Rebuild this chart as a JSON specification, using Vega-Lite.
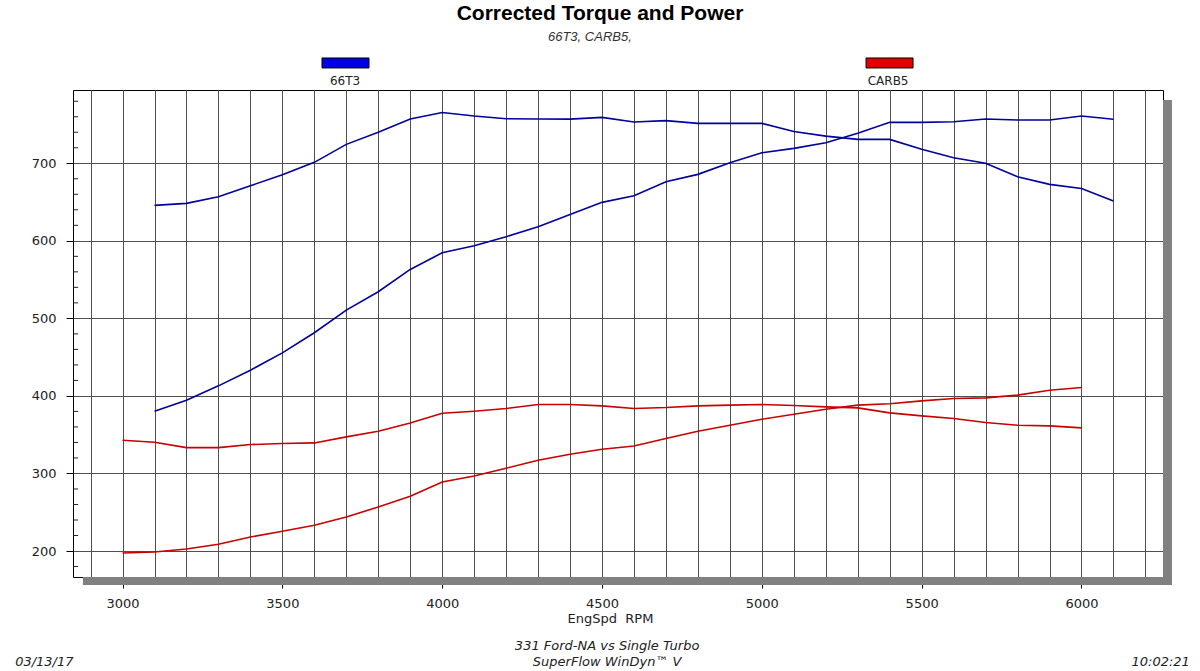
{
  "$schema": "https://vega.github.io/schema/vega-lite/v6.json",
  "width": 1090,
  "height": 487,
  "autosize": {"type": "none"},
  "padding": {"left": 73, "top": 90, "right": 37, "bottom": 94},
  "background": "white",
  "config": {"view": {"stroke": "#000000", "strokeWidth": 1}, "font": "DejaVu Sans"},
  "title": {
    "text": "Corrected Torque and Power",
    "anchor": "middle",
    "dx": -18,
    "offset": 7,
    "font": "Liberation Sans",
    "fontSize": 21,
    "fontWeight": "bold",
    "color": "#000000"
  },
  "datasets": {
    "dyno": [
      {"rpm": 3000, "CARB5 Torque": 342.9, "CARB5 Power": 197.5},
      {"rpm": 3100, "66T3 Torque": 645.7, "66T3 Power": 380.3, "CARB5 Torque": 340.3, "CARB5 Power": 198.8},
      {"rpm": 3200, "66T3 Torque": 648.3, "66T3 Power": 394.5, "CARB5 Torque": 333.3, "CARB5 Power": 202.6},
      {"rpm": 3300, "66T3 Torque": 656.9, "66T3 Power": 413.0, "CARB5 Torque": 333.3, "CARB5 Power": 208.7},
      {"rpm": 3400, "66T3 Torque": 671.0, "66T3 Power": 433.2, "CARB5 Torque": 337.3, "CARB5 Power": 218.1},
      {"rpm": 3500, "66T3 Torque": 685.3, "66T3 Power": 455.5, "CARB5 Torque": 338.6, "CARB5 Power": 225.5},
      {"rpm": 3600, "66T3 Torque": 701.2, "66T3 Power": 481.5, "CARB5 Torque": 339.4, "CARB5 Power": 233.2},
      {"rpm": 3700, "66T3 Torque": 724.4, "66T3 Power": 510.6, "CARB5 Torque": 347.2, "CARB5 Power": 243.9},
      {"rpm": 3800, "66T3 Torque": 739.9, "66T3 Power": 534.3, "CARB5 Torque": 354.5, "CARB5 Power": 256.8},
      {"rpm": 3900, "66T3 Torque": 757.1, "66T3 Power": 563.1, "CARB5 Torque": 365.2, "CARB5 Power": 270.6},
      {"rpm": 4000, "66T3 Torque": 765.5, "66T3 Power": 584.6, "CARB5 Torque": 377.7, "CARB5 Power": 289.1},
      {"rpm": 4100, "66T3 Torque": 761.0, "66T3 Power": 593.6, "CARB5 Torque": 380.3, "CARB5 Power": 296.8},
      {"rpm": 4200, "66T3 Torque": 757.5, "66T3 Power": 605.3, "CARB5 Torque": 383.8, "CARB5 Power": 306.8},
      {"rpm": 4300, "66T3 Torque": 757.1, "66T3 Power": 618.1, "CARB5 Torque": 388.9, "CARB5 Power": 317.1},
      {"rpm": 4400, "66T3 Torque": 757.0, "66T3 Power": 634.1, "CARB5 Torque": 388.9, "CARB5 Power": 324.8},
      {"rpm": 4500, "66T3 Torque": 759.2, "66T3 Power": 649.6, "CARB5 Torque": 387.2, "CARB5 Power": 331.3},
      {"rpm": 4600, "66T3 Torque": 753.2, "66T3 Power": 658.2, "CARB5 Torque": 383.8, "CARB5 Power": 335.5},
      {"rpm": 4700, "66T3 Torque": 755.0, "66T3 Power": 676.2, "CARB5 Torque": 385.0, "CARB5 Power": 345.0},
      {"rpm": 4800, "66T3 Torque": 751.5, "66T3 Power": 685.7, "CARB5 Torque": 387.2, "CARB5 Power": 354.5},
      {"rpm": 4900, "66T3 Torque": 751.5, "66T3 Power": 700.7, "CARB5 Torque": 388.1, "CARB5 Power": 362.2},
      {"rpm": 5000, "66T3 Torque": 751.5, "66T3 Power": 713.6, "CARB5 Torque": 388.9, "CARB5 Power": 369.9},
      {"rpm": 5100, "66T3 Torque": 741.0, "66T3 Power": 719.2, "CARB5 Torque": 387.6, "CARB5 Power": 376.4},
      {"rpm": 5200, "66T3 Torque": 735.0, "66T3 Power": 726.5, "CARB5 Torque": 385.9, "CARB5 Power": 382.9},
      {"rpm": 5300, "66T3 Torque": 730.8, "66T3 Power": 738.6, "CARB5 Torque": 384.6, "CARB5 Power": 388.1},
      {"rpm": 5400, "66T3 Torque": 730.8, "66T3 Power": 752.8, "CARB5 Torque": 378.1, "CARB5 Power": 390.0},
      {"rpm": 5500, "66T3 Torque": 718.0, "66T3 Power": 752.8, "CARB5 Torque": 374.3, "CARB5 Power": 393.6},
      {"rpm": 5600, "66T3 Torque": 707.2, "66T3 Power": 753.6, "CARB5 Torque": 370.9, "CARB5 Power": 396.7},
      {"rpm": 5700, "66T3 Torque": 700.0, "66T3 Power": 757.1, "CARB5 Torque": 365.7, "CARB5 Power": 397.5},
      {"rpm": 5800, "66T3 Torque": 682.6, "66T3 Power": 755.8, "CARB5 Torque": 362.2, "CARB5 Power": 401.0},
      {"rpm": 5900, "66T3 Torque": 672.8, "66T3 Power": 755.8, "CARB5 Torque": 361.4, "CARB5 Power": 407.4},
      {"rpm": 6000, "66T3 Torque": 667.6, "66T3 Power": 761.0, "CARB5 Torque": 358.8, "CARB5 Power": 410.9},
      {"rpm": 6100, "66T3 Torque": 651.3, "66T3 Power": 756.7}
    ],
    "minor": [
      {"t": 180}, {"t": 220}, {"t": 240}, {"t": 260}, {"t": 280},
      {"t": 320}, {"t": 340}, {"t": 360}, {"t": 380},
      {"t": 420}, {"t": 440}, {"t": 460}, {"t": 480},
      {"t": 520}, {"t": 540}, {"t": 560}, {"t": 580},
      {"t": 620}, {"t": 640}, {"t": 660}, {"t": 680},
      {"t": 720}, {"t": 740}, {"t": 760}, {"t": 780}
    ]
  },
  "layer": [
    {
      "data": {"values": [{}]},
      "mark": {"type": "rect", "color": "#808080"},
      "encoding": {
        "x": {"datum": 2876, "type": "quantitative", "scale": {"domain": [2845, 6255], "nice": false, "zero": false}},
        "x2": {"datum": 6283},
        "y": {"datum": 156.2, "type": "quantitative", "scale": {"domain": [166.5, 794.5], "nice": false, "zero": false}},
        "y2": {"datum": 166.5}
      }
    },
    {
      "data": {"values": [{}]},
      "mark": {"type": "rect", "color": "#808080"},
      "encoding": {
        "x": {"datum": 6255, "type": "quantitative", "scale": {"domain": [2845, 6255], "nice": false, "zero": false}},
        "x2": {"datum": 6283},
        "y": {"datum": 156.2, "type": "quantitative", "scale": {"domain": [166.5, 794.5], "nice": false, "zero": false}},
        "y2": {"datum": 781.6}
      }
    },
    {
      "data": {"name": "dyno"},
      "transform": [
        {"fold": ["66T3 Torque", "66T3 Power", "CARB5 Torque", "CARB5 Power"], "as": ["curve", "value"]},
        {"filter": "isValid(datum.value)"}
      ],
      "mark": {"type": "line", "strokeWidth": 1.6, "interpolate": "linear"},
      "encoding": {
        "x": {
          "field": "rpm", "type": "quantitative",
          "scale": {"domain": [2845, 6255], "nice": false, "zero": false},
          "axis": {
            "values": [2900, 3000, 3100, 3200, 3300, 3400, 3500, 3600, 3700, 3800, 3900, 4000, 4100, 4200, 4300, 4400, 4500, 4600, 4700, 4800, 4900, 5000, 5100, 5200, 5300, 5400, 5500, 5600, 5700, 5800, 5900, 6000, 6100, 6200],
            "tickCount": 60,
            "format": "d",
            "labelExpr": "datum.value % 500 === 0 ? datum.label : ''",
            "labelOverlap": false,
            "labelFlush": false,
            "grid": true,
            "gridColor": "#505050",
            "gridWidth": 1,
            "gridOpacity": 1,
            "domain": false,
            "tickColor": "#000000",
            "tickSize": 11,
            "tickOpacity": {"condition": {"test": "datum.value % 500 === 0", "value": 1}, "value": 0},
            "labelPadding": 9,
            "labelFont": "DejaVu Sans",
            "labelFontSize": 13,
            "labelColor": "#222222",
            "title": "EngSpd\u00a0 RPM",
            "titleX": 537,
            "titleFont": "DejaVu Sans",
            "titleFontSize": 13,
            "titleFontWeight": "normal",
            "titleColor": "#222222",
            "titlePadding": 2
          }
        },
        "y": {
          "field": "value", "type": "quantitative",
          "scale": {"domain": [166.5, 794.5], "nice": false, "zero": false},
          "axis": {
            "values": [200, 300, 400, 500, 600, 700],
            "tickCount": 20,
            "grid": true,
            "gridColor": "#505050",
            "gridWidth": 1,
            "gridOpacity": 1,
            "domain": false,
            "tickSize": 7,
            "tickColor": "#000000",
            "labelPadding": 10,
            "labelFont": "DejaVu Sans",
            "labelFontSize": 13,
            "labelColor": "#222222",
            "title": null
          }
        },
        "color": {
          "field": "curve", "type": "nominal",
          "scale": {"domain": ["66T3 Torque", "66T3 Power", "CARB5 Torque", "CARB5 Power"], "range": ["#00009c", "#00009c", "#c80000", "#c80000"]},
          "legend": null
        }
      }
    },
    {
      "data": {"name": "minor"},
      "mark": {"type": "rule", "color": "#222222", "strokeWidth": 1},
      "encoding": {
        "x": {"datum": 2845, "type": "quantitative", "scale": {"domain": [2845, 6255], "nice": false, "zero": false}},
        "x2": {"datum": 2861},
        "y": {"field": "t", "type": "quantitative", "scale": {"domain": [166.5, 794.5], "nice": false, "zero": false}}
      }
    },
    {
      "data": {"values": [{}]},
      "mark": {"type": "rect", "fill": "#0000e0", "stroke": "#000000", "strokeWidth": 1},
      "encoding": {
        "x": {"datum": 3624, "type": "quantitative", "scale": {"domain": [2845, 6255], "nice": false, "zero": false}},
        "x2": {"datum": 3771},
        "y": {"datum": 822.9, "type": "quantitative", "scale": {"domain": [166.5, 794.5], "nice": false, "zero": false}},
        "y2": {"datum": 835.8}
      }
    },
    {
      "data": {"values": [{}]},
      "mark": {"type": "rect", "fill": "#e00000", "stroke": "#000000", "strokeWidth": 1},
      "encoding": {
        "x": {"datum": 5326, "type": "quantitative", "scale": {"domain": [2845, 6255], "nice": false, "zero": false}},
        "x2": {"datum": 5473},
        "y": {"datum": 822.9, "type": "quantitative", "scale": {"domain": [166.5, 794.5], "nice": false, "zero": false}},
        "y2": {"datum": 835.8}
      }
    },
    {
      "data": {"values": [{}]},
      "mark": {"type": "text", "text": "66T3", "align": "center", "baseline": "alphabetic", "font": "DejaVu Sans", "fontSize": 12, "color": "#222222"},
      "encoding": {
        "x": {"datum": 3696, "type": "quantitative", "scale": {"domain": [2845, 6255], "nice": false, "zero": false}},
        "y": {"datum": 800.9, "type": "quantitative", "scale": {"domain": [166.5, 794.5], "nice": false, "zero": false}}
      }
    },
    {
      "data": {"values": [{}]},
      "mark": {"type": "text", "text": "CARB5", "align": "center", "baseline": "alphabetic", "font": "DejaVu Sans", "fontSize": 12, "color": "#222222"},
      "encoding": {
        "x": {"datum": 5395, "type": "quantitative", "scale": {"domain": [2845, 6255], "nice": false, "zero": false}},
        "y": {"datum": 800.9, "type": "quantitative", "scale": {"domain": [166.5, 794.5], "nice": false, "zero": false}}
      }
    },
    {
      "data": {"values": [{}]},
      "mark": {"type": "text", "text": "66T3, CARB5,", "align": "center", "baseline": "alphabetic", "font": "Liberation Sans", "fontSize": 13, "fontStyle": "italic", "color": "#333333"},
      "encoding": {
        "x": {"datum": 4462, "type": "quantitative", "scale": {"domain": [2845, 6255], "nice": false, "zero": false}},
        "y": {"datum": 857.5, "type": "quantitative", "scale": {"domain": [166.5, 794.5], "nice": false, "zero": false}}
      }
    },
    {
      "data": {"values": [{}]},
      "mark": {"type": "text", "text": "331 Ford-NA vs Single Turbo", "align": "center", "baseline": "alphabetic", "font": "DejaVu Sans", "fontSize": 13, "fontStyle": "italic", "color": "#222222"},
      "encoding": {
        "x": {"datum": 4516, "type": "quantitative", "scale": {"domain": [2845, 6255], "nice": false, "zero": false}},
        "y": {"datum": 72.3, "type": "quantitative", "scale": {"domain": [166.5, 794.5], "nice": false, "zero": false}}
      }
    },
    {
      "data": {"values": [{}]},
      "mark": {"type": "text", "text": "SuperFlow WinDyn\u2122 V", "align": "center", "baseline": "alphabetic", "font": "DejaVu Sans", "fontSize": 13, "fontStyle": "italic", "color": "#222222"},
      "encoding": {
        "x": {"datum": 4516, "type": "quantitative", "scale": {"domain": [2845, 6255], "nice": false, "zero": false}},
        "y": {"datum": 51.7, "type": "quantitative", "scale": {"domain": [166.5, 794.5], "nice": false, "zero": false}}
      }
    },
    {
      "data": {"values": [{}]},
      "mark": {"type": "text", "text": "03/13/17", "align": "left", "baseline": "alphabetic", "font": "DejaVu Sans", "fontSize": 13, "fontStyle": "italic", "color": "#222222"},
      "encoding": {
        "x": {"datum": 2664, "type": "quantitative", "scale": {"domain": [2845, 6255], "nice": false, "zero": false}},
        "y": {"datum": 51.7, "type": "quantitative", "scale": {"domain": [166.5, 794.5], "nice": false, "zero": false}}
      }
    },
    {
      "data": {"values": [{}]},
      "mark": {"type": "text", "text": "10:02:21", "align": "right", "baseline": "alphabetic", "font": "DejaVu Sans", "fontSize": 13, "fontStyle": "italic", "color": "#222222"},
      "encoding": {
        "x": {"datum": 6339, "type": "quantitative", "scale": {"domain": [2845, 6255], "nice": false, "zero": false}},
        "y": {"datum": 51.7, "type": "quantitative", "scale": {"domain": [166.5, 794.5], "nice": false, "zero": false}}
      }
    }
  ]
}
